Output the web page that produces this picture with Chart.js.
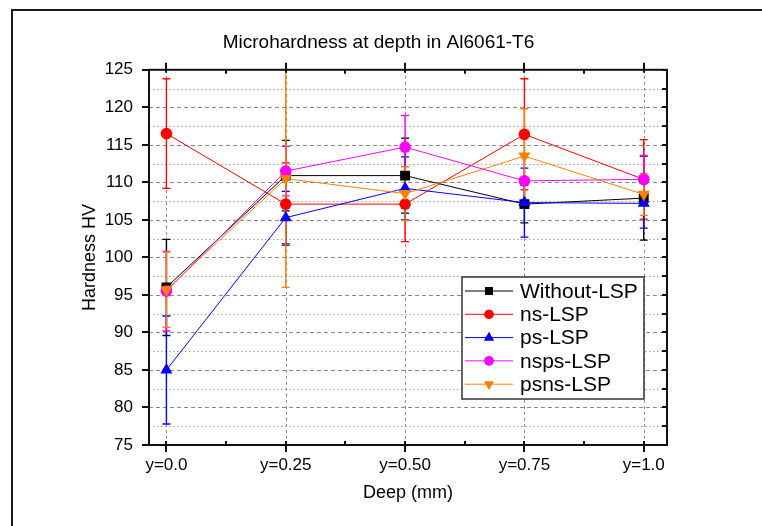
<!DOCTYPE html>
<html>
<head>
<meta charset="utf-8">
<script src="https://cdn.jsdelivr.net/npm/chart.js@4.4.1/dist/chart.umd.min.js"></script>
<style>
  html, body { margin: 0; background: #fff; }
  #wrap { width: 762px; height: 526px; position: relative; }
</style>
</head>
<body>
<div id="wrap"><canvas id="chart" width="762" height="526"></canvas></div>
<script>
// ---- data ----
const TITLE    = 'Microhardness at depth in Al6061-T6';
const X_TITLE  = 'Deep (mm)';
const Y_TITLE  = 'Hardness HV';
const X_POS    = [0, 1, 2, 3, 4];
const X_LABELS = ['y=0.0', 'y=0.25', 'y=0.50', 'y=0.75', 'y=1.0'];
const NAMES    = ['Without-LSP', 'ns-LSP', 'ps-LSP', 'nsps-LSP', 'psns-LSP'];

const WITHOUT_LSP     = [96.0, 110.9, 110.9, 107.1, 107.9];
const WITHOUT_LSP_ERR = [6.4, 4.7, 5.0, 2.5, 5.6];
const NS_LSP          = [116.5, 107.1, 107.1, 116.4, 110.4];
const NS_LSP_ERR      = [7.3, 5.5, 5.0, 7.4, 5.3];
const PS_LSP          = [85.0, 105.3, 109.2, 107.3, 107.2];
const PS_LSP_ERR      = [7.2, 3.5, 4.2, 4.6, 3.3];
const NSPS_LSP        = [95.5, 111.5, 114.7, 110.2, 110.4];
const NSPS_LSP_ERR    = [5.3, 3.3, 4.2, 3.5, 3.2];
const PSNS_LSP        = [95.7, 110.5, 108.5, 113.5, 108.4];
const PSNS_LSP_ERR    = [5.0, 14.5, 3.6, 6.3, 2.8];

const FONT = "'Liberation Sans', Arial, sans-serif";

const SERIES = [
  { name: NAMES[0], vals: WITHOUT_LSP, err: WITHOUT_LSP_ERR, color: '#000000', style: 'rect',     r: 7,   rot: 0,   order: 5 },
  { name: NAMES[1], vals: NS_LSP,      err: NS_LSP_ERR,      color: '#ff0000', style: 'circle',   r: 5.8, rot: 0,   order: 4 },
  { name: NAMES[2], vals: PS_LSP,      err: PS_LSP_ERR,      color: '#0000ff', style: 'triangle', r: 7,   rot: 0,   order: 3 },
  { name: NAMES[3], vals: NSPS_LSP,    err: NSPS_LSP_ERR,    color: '#ff00ff', style: 'circle',   r: 5.8, rot: 0,   order: 2 },
  { name: NAMES[4], vals: PSNS_LSP,    err: PSNS_LSP_ERR,    color: '#ff8000', style: 'triangle', r: 7,   rot: 180, order: 1 },
];

// gridlines, error bars, Origin-style frame and the boxed legend
const originPlugin = {
  id: 'originPlugin',
  beforeDraw(chart) {
    const ctx = chart.ctx;
    ctx.save();
    ctx.strokeStyle = '#1a1a1a';
    ctx.lineWidth = 2;
    ctx.beginPath();
    ctx.moveTo(12, 526); ctx.lineTo(12, 10); ctx.lineTo(762, 10);
    ctx.stroke();
    ctx.restore();
  },
  beforeDatasetsDraw(chart) {
    const { ctx, chartArea: a, scales: { x, y } } = chart;
    ctx.save();
    ctx.lineWidth = 1;
    for (let v = 77.5; v < 125; v += 2.5) {
      const py = Math.round(y.getPixelForValue(v)) + 0.5;
      const major = v % 5 === 0;
      ctx.setLineDash(major ? [4, 3] : [1.5, 2.5]);
      ctx.strokeStyle = major ? '#8a8a8a' : '#a0a0a0';
      ctx.beginPath(); ctx.moveTo(a.left, py); ctx.lineTo(a.right, py); ctx.stroke();
    }
    ctx.setLineDash([3, 3]);
    ctx.strokeStyle = '#8a8a8a';
    X_POS.forEach(v => {
      const px = Math.round(x.getPixelForValue(v)) + 0.5;
      ctx.beginPath(); ctx.moveTo(px, a.top); ctx.lineTo(px, a.bottom); ctx.stroke();
    });
    ctx.setLineDash([]);

    // error bars
    ctx.lineWidth = 1.4;
    SERIES.forEach(s => {
      ctx.strokeStyle = s.color;
      s.vals.forEach((v, j) => {
        const px = x.getPixelForValue(X_POS[j]);
        const top = y.getPixelForValue(v + s.err[j]);
        const bot = y.getPixelForValue(v - s.err[j]);
        ctx.beginPath();
        ctx.moveTo(px, top); ctx.lineTo(px, bot);
        ctx.moveTo(px - 4, top); ctx.lineTo(px + 4, top);
        ctx.moveTo(px - 4, bot); ctx.lineTo(px + 4, bot);
        ctx.stroke();
      });
    });
    ctx.restore();
  },
  afterDatasetsDraw(chart) {
    const { ctx, chartArea: a, scales: { x, y } } = chart;
    ctx.save();
    ctx.strokeStyle = '#111';
    ctx.lineWidth = 2;
    ctx.strokeRect(a.left, a.top, a.right - a.left, a.bottom - a.top);
    ctx.beginPath();
    // x ticks: major cross the axis, minor point inward
    X_POS.forEach(v => {
      const px = Math.round(x.getPixelForValue(v));
      ctx.moveTo(px, a.bottom - 4); ctx.lineTo(px, a.bottom + 7);
      ctx.moveTo(px, a.top - 7); ctx.lineTo(px, a.top + 3);
      if (v < 4) {
        const mx = Math.round(x.getPixelForValue(v + 0.5));
        ctx.moveTo(mx, a.bottom); ctx.lineTo(mx, a.bottom - 4);
        ctx.moveTo(mx, a.top); ctx.lineTo(mx, a.top + 4);
      }
    });
    // y ticks
    for (let v = 75; v <= 125; v += 2.5) {
      const py = Math.round(y.getPixelForValue(v));
      if (v % 5 === 0) { ctx.moveTo(a.left - 7, py); ctx.lineTo(a.left, py); }
      ctx.moveTo(a.right, py); ctx.lineTo(a.right - 5, py);
    }
    ctx.stroke();
    ctx.restore();
  },
  afterDraw(chart) {
    const ctx = chart.ctx;
    const box = { l: 462, t: 277, w: 182, h: 122 };
    ctx.save();
    ctx.fillStyle = '#fff';
    ctx.fillRect(box.l, box.t, box.w, box.h);
    ctx.strokeStyle = '#333';
    ctx.lineWidth = 1.5;
    ctx.strokeRect(box.l, box.t, box.w, box.h);
    ctx.font = '21px ' + FONT;
    ctx.textBaseline = 'middle';
    SERIES.forEach((s, i) => {
      const cy = box.t + 14 + i * 23.3;
      ctx.strokeStyle = s.color;
      ctx.lineWidth = 1;
      ctx.beginPath(); ctx.moveTo(box.l + 3, cy); ctx.lineTo(box.l + 51, cy); ctx.stroke();
      ctx.fillStyle = s.color;
      Chart.helpers.drawPoint(ctx, { pointStyle: s.style, radius: s.r * 0.8, rotation: s.rot, borderWidth: 0 }, box.l + 27, cy);
      ctx.fill();
      ctx.fillStyle = '#000';
      ctx.fillText(s.name, box.l + 58, cy + 1);
    });
    ctx.restore();
  }
};

const datasets = SERIES.map(s => ({
  label: s.name,
  data: s.vals.map((v, j) => ({ x: X_POS[j], y: v })),
  borderColor: s.color,
  backgroundColor: s.color,
  borderWidth: 1,
  pointStyle: s.style,
  pointRadius: s.r,
  pointRotation: s.rot,
  pointBorderWidth: 0,
  tension: 0,
  order: s.order,
}));

new Chart(document.getElementById('chart'), {
  type: 'line',
  data: { datasets },
  options: {
    responsive: false,
    animation: false,
    layout: { padding: { left: 90, right: 95, top: 0, bottom: 15 } },
    plugins: {
      legend: { display: false },
      tooltip: { enabled: false },
      title: {
        display: true, text: TITLE, color: '#000',
        font: { family: FONT, size: 19, weight: 'normal' },
        padding: { top: 31, bottom: 16 },
      },
    },
    scales: {
      x: {
        type: 'linear', min: -0.146, max: 4.195,
        afterBuildTicks: s => { s.ticks = X_POS.map(v => ({ value: v })); },
        afterFit: s => { s.height = 66; },
        grid: { display: false, drawTicks: true, tickLength: 7 },
        border: { display: false },
        ticks: {
          color: '#000', padding: 3, maxRotation: 0, autoSkip: false,
          font: { family: FONT, size: 17 },
          callback: v => X_LABELS[X_POS.indexOf(v)],
        },
        title: { display: true, text: X_TITLE, color: '#000', font: { family: FONT, size: 18 }, padding: { top: 0, bottom: 7 } },
      },
      y: {
        min: 75, max: 125,
        afterFit: s => { s.width = 59; },
        grid: { display: false, drawTicks: true, tickLength: 7 },
        border: { display: false },
        ticks: { stepSize: 5, color: '#000', padding: 9, font: { family: FONT, size: 17 } },
        title: { display: true, text: Y_TITLE, color: '#000', font: { family: FONT, size: 18 }, padding: { top: -11, bottom: 0 } },
      },
    },
  },
  plugins: [originPlugin],
});
</script>
</body>
</html>
